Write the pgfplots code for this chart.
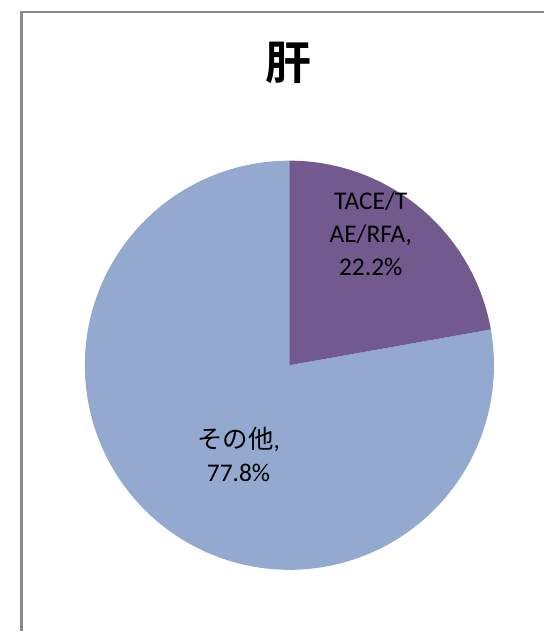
\documentclass[border=0pt]{standalone}
\usepackage{pgfplots}
\pgfplotsset{compat=1.18}
\usepackage{fontspec}
\setmainfont{Carlito}
\newfontfamily\cjk{Noto Sans CJK JP}
\newfontfamily\cjkb{Noto Sans CJK JP Bold}
\definecolor{slicea}{HTML}{725A8F}
\definecolor{sliceb}{HTML}{94A9D0}
\definecolor{framec}{HTML}{898989}
% data: shares in percent
\def\valA{22.2}
\def\valB{77.8}
\begin{document}
\begin{tikzpicture}
\begin{axis}[
  hide axis, scale only axis, width=543pt, height=632pt,
  xmin=0, xmax=543, ymin=0, ymax=632, clip=false,
]
\pgfmathsetmacro{\angA}{90-3.6*\valA}
\pgfmathsetmacro{\angB}{\angA-3.6*\valB}
\path (axis cs:0,0) rectangle (axis cs:543,632);
% slices
\addplot[fill=sliceb, draw=none, domain=\angB:\angA, samples=200, variable=\t]
  ({290+205*cos(t)},{266+205*sin(t)}) -- (axis cs:290,266) -- cycle;
\addplot[fill=slicea, draw=none, domain=\angA:90, samples=100, variable=\t]
  ({290+205*cos(t)},{266+205*sin(t)}) -- (axis cs:290,266) -- cycle;
% frame (left and top edges visible)
\draw[framec, line width=2.6pt] (axis cs:21.5,0) -- (axis cs:21.5,620) -- (axis cs:545,620);
% title
\node at (axis cs:289.5,568.5) {\fontsize{46}{50}\selectfont\cjkb 肝};
% labels
\node[align=center, font=\fontsize{25.5}{33}\selectfont] at (axis cs:371.5,398)
  {TACE/T\\AE/RFA,\\22.2\%};
\node[align=center, font=\fontsize{25.5}{33}\selectfont] at (axis cs:239,177)
  {{\cjk その他},\\77.8\%};
\end{axis}
\end{tikzpicture}
\end{document}
